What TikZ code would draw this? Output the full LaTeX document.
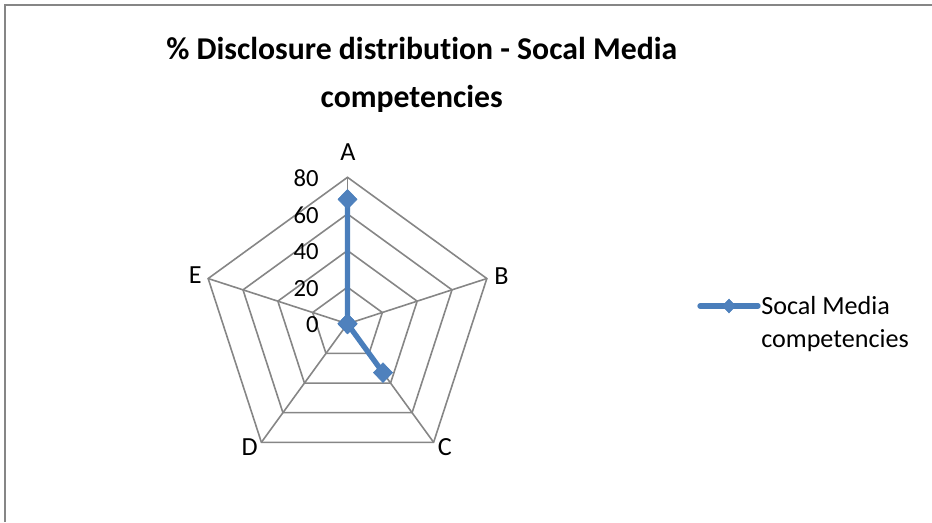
\documentclass[tikz,border=0pt]{standalone}
\usepackage{fontspec}
\setmainfont{Carlito}[Ligatures={NoCommon}]
\usetikzlibrary{shapes.geometric}
\definecolor{gridgray}{HTML}{868686}
\definecolor{serblue}{HTML}{4A7EBB}
\definecolor{mkblue}{HTML}{4F81BD}
\begin{document}
\begin{tikzpicture}[x=0.75pt,y=-0.75pt,
  gridline/.style={draw=gridgray,line width=1.2pt},
  series/.style={draw=serblue,line width=4pt,line join=round,line cap=round},
  marker/.style={diamond,fill=mkblue,draw=serblue,line width=0.4pt,inner sep=0pt,minimum width=14.5pt,minimum height=15pt},
  lmarker/.style={diamond,fill=mkblue,draw=serblue,line width=0.4pt,inner sep=0pt,minimum width=10pt,minimum height=10.5pt},
  catlabel/.style={font=\fontsize{19.6}{22}\selectfont,inner sep=0pt},
  ticklabel/.style={font=\fontsize{18.5}{21}\selectfont,inner sep=0pt,anchor=base east},
  titletext/.style={font=\fontsize{23.8}{28}\selectfont\bfseries,inner sep=0pt,anchor=base}]
\useasboundingbox (0,0) rectangle (932,522);
% chart border (top and left visible)
\draw[draw=gridgray,line width=1.5pt] (5,522) -- (5,4.5) -- (932,4.5);
% title
\node[titletext] (title1) at (421.7,59.3) {\% Disclosure distribution - Socal Media};
\node[titletext] (title2) at (411.7,107.7) {competencies};
% radar
\begin{scope}[shift={(347.5,323.8)}]
  \foreach \r in {36.625,73.25,109.875,146.5}
    \draw[gridline] (-90:\r) -- (-18:\r) -- (54:\r) -- (126:\r) -- (198:\r) -- cycle;
  \coordinate (ctr) at (0,0);
  \coordinate (vA) at (-90:146.5);
  \coordinate (vB) at (-18:146.5);
  \coordinate (vC) at (54:146.5);
  \coordinate (vD) at (126:146.5);
  \coordinate (vE) at (198:146.5);
  \foreach \v in {vA,vB,vC,vD,vE}
    \draw[gridline] (ctr) -- (\v);
  % series data: A=68, B=0, C=33, D=0, E=0
  \coordinate (sA) at (-90:124.5);
  \coordinate (sB) at (0,0);
  \coordinate (sC) at (54:60.4);
  \coordinate (sD) at (0,0);
  \coordinate (sE) at (0,0);
  \draw[series] (sA) -- (sB) -- (sC) -- (sD) -- (sE) -- cycle;
  \node[marker] (mA) at (sA) {};
  \node[marker] (mB) at (sB) {};
  \node[marker] (mC) at (sC) {};
  \node[marker] (mD) at (sD) {};
  \node[marker] (mE) at (sE) {};
\end{scope}
% axis tick labels
\node[ticklabel] (t80) at (319,186.7) {80};
\node[ticklabel] (t60) at (319,223.2) {60};
\node[ticklabel] (t40) at (319,259.8) {40};
\node[ticklabel] (t20) at (319,296.3) {20};
\node[ticklabel] (t0)  at (319,332.9) {0};
% category labels
\node[catlabel,anchor=base] (lA) at (348,160.7) {A};
\node[catlabel,anchor=base west] (lB) at (494,284) {B};
\node[catlabel,anchor=base west] (lC) at (437.5,455) {C};
\node[catlabel,anchor=base east] (lD) at (258,455) {D};
\node[catlabel,anchor=base east] (lE) at (202,283.5) {E};
% legend
\coordinate (lg1) at (700,306);
\coordinate (lg2) at (758,306);
\draw[series] (lg1) -- (lg2);
\node[lmarker] (lgm) at (729,306) {};
\node[catlabel,anchor=base west] (lgt1) at (761,314.5) {Socal Media};
\node[catlabel,anchor=base west] (lgt2) at (761,347) {competencies};
\end{tikzpicture}
\end{document}
